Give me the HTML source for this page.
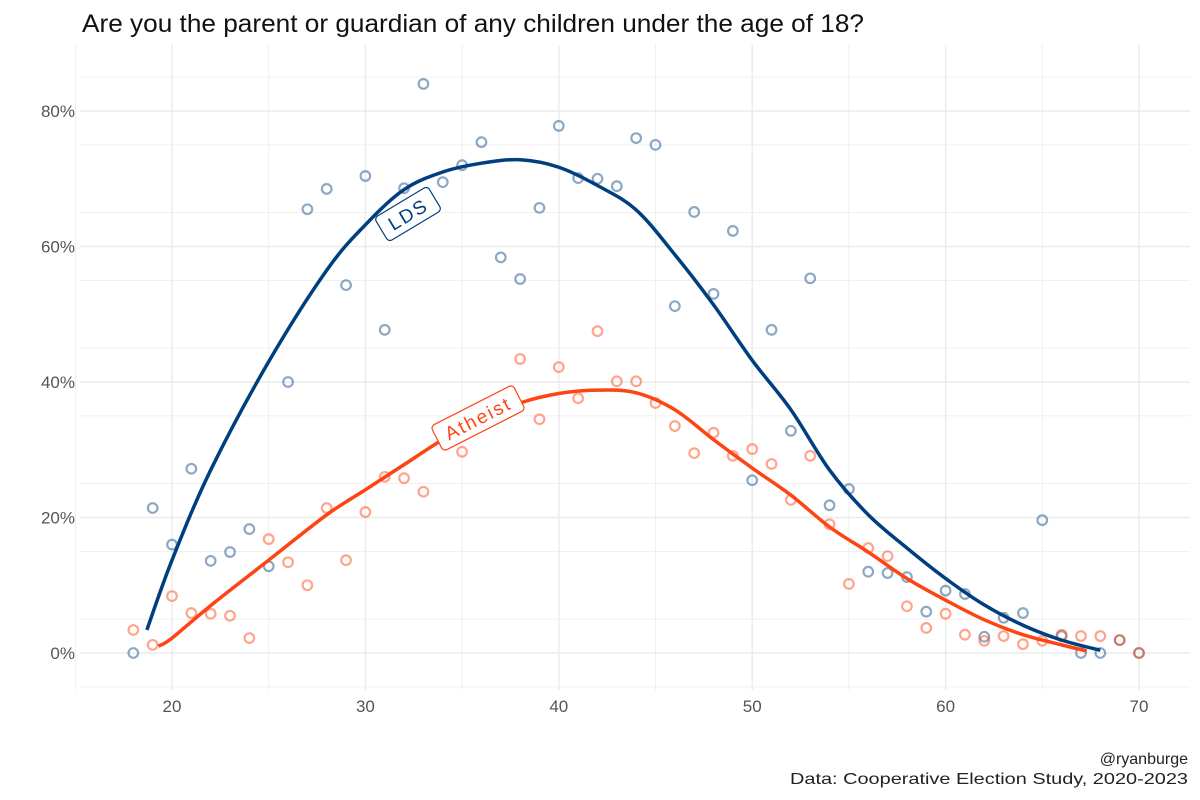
<!DOCTYPE html>
<html><head><meta charset="utf-8"><style>
body{margin:0;background:#fff;font-family:"Liberation Sans",sans-serif;}
svg{display:block}
text{font-family:"Liberation Sans",sans-serif}
</style></head><body>
<svg id="chart" width="1200" height="800">
<text x="82" y="32" font-size="25" fill="#111" textLength="782" lengthAdjust="spacingAndGlyphs">Are you the parent or guardian of any children under the age of 18?</text>
<g id="grid"></g><g id="axes"></g><g id="pts"></g><g id="lines"></g><g id="labels"></g>
<text x="1188" y="764" font-size="16" fill="#222" text-anchor="end">@ryanburge</text>
<text x="1188" y="784" font-size="16" fill="#222" text-anchor="end" textLength="398" lengthAdjust="spacingAndGlyphs">Data: Cooperative Election Study, 2020-2023</text>
</svg>
<script>
const xTicks=[20,30,40,50,60,70];
const yTicks=[0,20,40,60,80];
const ldsAges=[18,19,20,21,22,23,24,25,26,27,28,29,30,31,32,33,34,35,36,37,38,39,40,41,42,43,44,45,46,47,48,49,50,51,52,53,54,55,56,57,58,59,60,61,62,63,64,65,66,67,68,69,70];
const ldsVals=[0,21.4,16,27.2,13.6,14.9,18.3,12.8,40,65.5,68.5,54.3,70.4,47.7,68.6,84,69.5,72,75.4,58.4,55.2,65.7,77.8,70.1,70,68.9,76,75,51.2,65.1,53,62.3,25.5,47.7,32.8,55.3,21.8,24.2,12,11.8,11.2,6.1,9.2,8.7,2.4,5.2,5.9,19.6,2.5,0,0,1.9,0];
const athAges=[18,19,20,21,22,23,24,25,26,27,28,29,30,31,32,33,35,38,39,40,41,42,43,44,45,46,47,48,49,50,51,52,53,54,55,56,57,58,59,60,61,62,63,64,65,66,67,68,69,70];
const athVals=[3.4,1.2,8.4,5.9,5.8,5.5,2.2,16.8,13.4,10,21.4,13.7,20.8,26,25.8,23.8,29.7,43.4,34.5,42.2,37.6,47.5,40.1,40.1,36.9,33.5,29.5,32.5,29.1,30.1,27.9,22.6,29.1,19,10.2,15.5,14.3,6.9,3.7,5.8,2.7,1.8,2.5,1.3,1.8,2.7,2.5,2.5,1.9,0];
const ldsCurveX=[18.7,20,22,25,28,30,32,34,36,38,40,42,44,46,48,50,52,54,56,58,60,62,64,66,68];
const ldsCurveY=[3.4,13.7,27,43,56.5,63.2,68.4,71,72.3,72.8,71.7,69,65.4,58.8,51.4,43.2,35.9,27,20.4,15.5,11,7.1,4.1,1.9,0.4];
const athCurveX=[19.3,20,22,25,28,30,32,34,36,38,40,42,44,46,48,50,52,54,56,58,60,62,64,66,67.3];
const athCurveY=[1,2.2,7,13.7,20.4,24.1,27.8,31.5,34.5,36.9,38.3,38.8,38.4,35.9,31.5,27.3,23.3,18.6,14.9,11,7.8,4.9,2.7,1.2,0.3];
const NS='http://www.w3.org/2000/svg';
const sx=v=>172+(v-20)*19.34;
const sy=v=>653-v*6.775;
function mk(tag,attrs,parent){const e=document.createElementNS(NS,tag);for(const k in attrs)e.setAttribute(k,attrs[k]);document.getElementById(parent).appendChild(e);return e;}
for(let v=15;v<=75;v+=5){const l=mk('line',{x1:sx(v),x2:sx(v),y1:45,y2:690,stroke:'#ebebeb','stroke-width':v%10==0?1.5:0.8},'grid');

}
for(let v=-5;v<=85;v+=10){const y=sy(v);if(y<45||y>690)continue;const l=mk('line',{x1:80,x2:1190,y1:y,y2:y,stroke:'#ebebeb','stroke-width':0.8},'grid');

}
yTicks.forEach(v=>{const l=mk('line',{x1:80,x2:1190,y1:sy(v),y2:sy(v),stroke:'#ebebeb','stroke-width':1.5},'grid');


const t=mk('text',{x:75,y:sy(v)+6,'font-size':17,fill:'#555','text-anchor':'end'},'axes');t.textContent=v+'%';

});
xTicks.forEach(v=>{const t=mk('text',{x:sx(v),y:712,'font-size':17,fill:'#555','text-anchor':'middle'},'axes');t.textContent=v;

});
ldsAges.forEach((a,i)=>{const c=mk('circle',{cx:sx(a),cy:sy(ldsVals[i]),r:4.8,fill:'none',stroke:'#003f7f','stroke-opacity':0.45,'stroke-width':2.2},'pts');

});
athAges.forEach((a,i)=>{const c=mk('circle',{cx:sx(a),cy:sy(athVals[i]),r:4.8,fill:'none',stroke:'#ff4a1c','stroke-opacity':0.5,'stroke-width':2.2},'pts');

});
function path(xs,ys){let d='';const p=xs.map((x,i)=>[sx(x),sy(ys[i])]);d='M'+p[0];for(let i=0;i<p.length-1;i++){const p0=p[i-1]||p[i],p1=p[i],p2=p[i+1],p3=p[i+2]||p2;d+=' C'+(p1[0]+(p2[0]-p0[0])/6)+','+(p1[1]+(p2[1]-p0[1])/6)+' '+(p2[0]-(p3[0]-p1[0])/6)+','+(p2[1]-(p3[1]-p1[1])/6)+' '+p2;}return d;}
const l1=mk('path',{d:path(ldsCurveX,ldsCurveY),fill:'none',stroke:'#003f7f','stroke-width':3.5},'lines');


const l2=mk('path',{d:path(athCurveX,athCurveY),fill:'none',stroke:'#ff4413','stroke-width':3.5},'lines');


function label(txt,cx,cy,rot,col,w,name){const g=mk('g',{transform:`translate(${cx},${cy}) rotate(${rot})`},'labels');


const r=document.createElementNS(NS,'rect');r.setAttribute('x',-w/2);r.setAttribute('y',-14);r.setAttribute('width',w);r.setAttribute('height',28);r.setAttribute('rx',4);r.setAttribute('fill','#fff');r.setAttribute('stroke',col);r.setAttribute('stroke-width',1.2);g.appendChild(r);
const t=document.createElementNS(NS,'text');t.setAttribute('x',0);t.setAttribute('y',7);t.setAttribute('font-size',19);t.setAttribute('fill',col);t.setAttribute('text-anchor','middle');t.setAttribute('letter-spacing','2');t.textContent=txt;g.appendChild(t);}
label('LDS',408,214,-31,'#003f7f',62,'lds-label');
label('Atheist',478,418,-27,'#ff4413',92,'atheist-label');
</script>
</body></html>
